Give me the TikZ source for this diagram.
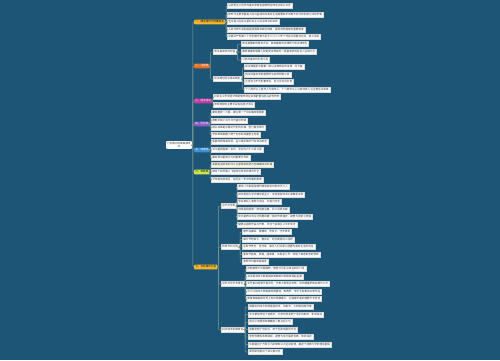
\documentclass[tikz,border=0pt]{standalone}
\usepackage{fontspec}
\setmainfont{Noto Sans CJK SC}
\usetikzlibrary{calc}
\definecolor{mybg}{RGB}{28,85,118}
\definecolor{mygold}{RGB}{246,183,46}
\definecolor{myorange}{RGB}{232,112,40}
\definecolor{mymagenta}{RGB}{196,60,160}
\definecolor{myviolet}{RGB}{140,92,200}
\definecolor{myblue}{RGB}{62,142,214}
\definecolor{mylime}{RGB}{212,230,74}
\definecolor{myline}{RGB}{128,156,148}
\newcommand{\mapfont}{\fontsize{2.6}{3}\selectfont}
\tikzstyle{leaf} = [anchor=west, fill=white, draw=black!15, line width=0.2,
    inner xsep=1.2, inner ysep=1.1, text height=2.2, text depth=0.5,
    font=\mapfont, text=black!80]
\tikzstyle{topic} = [anchor=west, rounded corners=0.8, inner xsep=1.2,
    inner ysep=1.1, text height=2.2, text depth=0.5, font=\mapfont]
\tikzstyle{conn} = [draw=myline, line width=0.5, rounded corners=1]

\begin{document}
\begin{tikzpicture}[x=1pt,y=-1pt]
    \fill[mybg] (0,0) rectangle (500,360);
    \useasboundingbox (0,0) rectangle (500,360);

    % 1. Place the root
    \node[fill=white, rounded corners=1, inner sep=1.2, font=\mapfont,
        align=center, text=black!80] (root) at (179,145)
        {行测常识判断高频考\\点};

    % 2. Place the main topics, x = 194
    \node[topic, fill=mygold] (ga) at (194,22) {一、政治常识与时事热点};
    \node[topic, fill=myorange, text=white] (gb) at (194,66) {二、法律类};
    \node[topic, fill=mymagenta, text=white] (gc) at (194,101) {三、经济常识};
    \node[topic, fill=myviolet, text=white] (gd) at (194,124) {四、历史类};
    \node[topic, fill=myblue, text=white] (ge) at (194,150) {五、地理类};
    \node[topic, fill=mylime] (gf) at (194,172) {六、科技类};
    \node[topic, fill=mygold] (gg) at (194,267) {七、文化常识汇总};

    % 3. Topic one
    \node[leaf] (a1) at (227,6) {马克思主义哲学的基本原理包括唯物论辩证法和认识论};
    \node[leaf] (a2) at (227,14.5) {新时代主要矛盾是人民日益增长的美好生活需要和不平衡不充分的发展之间的矛盾};
    \node[leaf] (a3) at (227,22) {全过程人民民主是社会主义民主政治的本质};
    \node[leaf] (a4) at (227,29.5) {人民代表大会制度是我国根本政治制度，是党领导国家的重要制度};
    \node[leaf] (a5) at (227,37) {中国共产党第二十次全国代表大会于二〇二二年十月在北京胜利召开，意义深远};

    % 4. Topic two
    \node[leaf] (b1) at (213,52) {宪法基本原则内容};
    \node[leaf] (b11) at (241,44) {宪法是国家的根本大法，具有最高的法律效力和法律地位};
    \node[leaf] (b12) at (241,52) {国家尊重和保障人权是宪法规定的一项基本原则并写入总纲之中};
    \node[leaf] (b13) at (241,60) {公民的基本权利和义务};
    \node[leaf] (b2) at (213,79) {民法典与刑法相关规定};
    \node[leaf] (b21) at (244,67) {民法典是新中国第一部以法典命名的法律，共七编};
    \node[leaf] (b22) at (244,74.5) {刑法的基本原则是罪刑法定原则等三项};
    \node[leaf] (b23) at (244,82) {正当防卫不负刑事责任，防卫过当应负责};
    \node[leaf] (b24) at (244,89.5) {十八周岁以上自然人为成年人，十六周岁以上以劳动收入为主要生活来源};

    % 5. Topics three to six
    \node[leaf] (c1) at (213,97) {社会主义市场经济体制使市场在资源配置中起决定性作用};
    \node[leaf] (c2) at (213,105) {宏观调控的主要手段包括经济手段};
    \node[leaf] (d1) at (211,113) {秦始皇统一六国，建立第一个中央集权制国家};
    \node[leaf] (d2) at (211,120.5) {唐朝贞观之治与开元盛世时期};
    \node[leaf] (d3) at (211,127.5) {鸦片战争是中国近代史的开端，签订南京条约};
    \node[leaf] (d4) at (211,135) {辛亥革命推翻了两千多年的封建君主专制};
    \node[leaf] (e1) at (211,142) {我国地势西高东低，呈三级阶梯状分布特点明显};
    \node[leaf] (e2) at (211,150) {长江是我国第一长河，全长约六千三百公里};
    \node[leaf] (e3) at (211,158) {秦岭淮河是南北方的重要分界线};
    \node[leaf, fill=mylime!15] (f1) at (211,164.5) {我国自主研发的北斗卫星导航系统已全面建成并开通};
    \node[leaf] (f2) at (211,172) {神舟十四号载人飞船成功发射并顺利升空};
    \node[leaf] (f3) at (211,179.5) {光年是长度单位，指光在一年中传播的距离};

    % 6. Topic seven
    \node[leaf] (g1) at (221,206) {古代文学类};
    \node[leaf] (g11) at (237,187) {唐宋八大家是指唐代韩愈柳宗元和宋代六人};
    \node[leaf] (g12) at (237,194.5) {四书是指大学中庸论语孟子，五经是指诗书礼易春秋五部};
    \node[leaf] (g13) at (237,202) {李白被后人尊称为诗仙，杜甫为诗圣};
    \node[leaf] (g14) at (237,209.5) {诗经是我国第一部诗歌总集，共三百零五篇};
    \node[leaf] (g15) at (237,217) {史记是西汉司马迁所著的第一部纪传体通史，被誉为史家之绝唱};
    \node[leaf] (g16) at (237,224.5) {楚辞以屈原作品为代表，开创了浪漫主义文学先河};
    \node[leaf] (g2) at (221,247) {传统节日习俗};
    \node[leaf] (g21) at (242,232) {春节贴春联、放鞭炮、吃饺子、守岁拜年};
    \node[leaf] (g22) at (242,239.5) {端午节吃粽子、赛龙舟，纪念爱国诗人屈原};
    \node[leaf] (g23) at (242,247) {中秋节赏月、吃月饼，寄托人们对家人团圆与美好生活的向往};
    \node[leaf] (g24) at (242,254.5) {重阳节登高、赏菊、插茱萸，又称老人节，体现了尊老爱老的传统};
    \node[leaf] (g25) at (242,262) {清明节扫墓祭祖踏青};
    \node[leaf] (g3) at (221,284) {中外文化艺术常识};
    \node[leaf] (g31) at (246,269) {京剧被誉为中国国粹，角色分为生旦净丑四大行当};
    \node[leaf] (g32) at (246,276.5) {书法楷书四大家是指颜真卿柳公权欧阳询赵孟頫};
    \node[leaf] (g33) at (246,284) {文艺复兴起源于意大利，代表人物有达芬奇、米开朗基罗和拉斐尔三杰};
    \node[leaf] (g34) at (246,291.5) {莎士比亚四大悲剧是哈姆雷特、奥赛罗、李尔王和麦克白等作品};
    \node[leaf] (g35) at (246,299) {敦煌莫高窟是世界上现存规模最大、内容最丰富的佛教艺术圣地};
    \node[leaf] (g4) at (221,329.5) {科学技术发展常识};
    \node[leaf] (g41) at (248,307) {我国古代四大发明是造纸术、印刷术、火药和指南针等};
    \node[leaf] (g42) at (248,314.5) {东汉蔡伦改进了造纸术，北宋毕昇发明了活字印刷术，影响深远};
    \node[leaf] (g43) at (248,322) {祖冲之将圆周率精确到小数点后七位};
    \node[leaf] (g44) at (248,329.5) {张衡发明了地动仪，用于测定地震的方位};
    \node[leaf] (g45) at (248,337) {李时珍著有本草纲目，被誉为东方医药巨典，影响深远};
    \node[leaf] (g46) at (248,344.5) {牛顿提出了万有引力定律和三大运动定律，奠定了经典力学的理论基础};
    \node[leaf] (g47) at (248,352) {爱因斯坦提出了狭义相对论};

    % 7. Draw connections
    \foreach \t in {ga,gb,gc,gd,ge,gf,gg}
        \draw[conn] (root.east) -- ++(0.8,0) |- (\t.west);
    \foreach \c in {a1,a2,a3,a4,a5} \draw[conn] (ga.east) -- ++(0.8,0) |- (\c.west);
    \foreach \c in {b1,b2} \draw[conn] (gb.east) -- ++(0.8,0) |- (\c.west);
    \foreach \c in {b11,b12,b13} \draw[conn] (b1.east) -- ++(1,0) |- (\c.west);
    \foreach \c in {b21,b22,b23,b24} \draw[conn] (b2.east) -- ++(1,0) |- (\c.west);
    \foreach \c in {c1,c2} \draw[conn] (gc.east) -- ++(0.4,0) |- (\c.west);
    \foreach \c in {d1,d2,d3,d4} \draw[conn] (gd.east) -- ++(0.4,0) |- (\c.west);
    \foreach \c in {e1,e2,e3} \draw[conn] (ge.east) -- ++(0.4,0) |- (\c.west);
    \foreach \c in {f1,f2,f3} \draw[conn] (gf.east) -- ++(0.4,0) |- (\c.west);
    \foreach \c in {g1,g2,g3,g4} \draw[conn] (gg.east) -- ++(0.8,0) |- (\c.west);
    \foreach \c in {g11,g12,g13,g14,g15,g16} \draw[conn] (g1.east) -- ++(0.5,0) |- (\c.west);
    \foreach \c in {g21,g22,g23,g24,g25} \draw[conn] (g2.east) -- ++(0.8,0) |- (\c.west);
    \foreach \c in {g31,g32,g33,g34,g35} \draw[conn] (g3.east) -- ++(0.8,0) |- (\c.west);
    \foreach \c in {g41,g42,g43,g44,g45,g46,g47} \draw[conn] (g4.east) -- ++(0.8,0) |- (\c.west);

\end{tikzpicture}
\end{document}
